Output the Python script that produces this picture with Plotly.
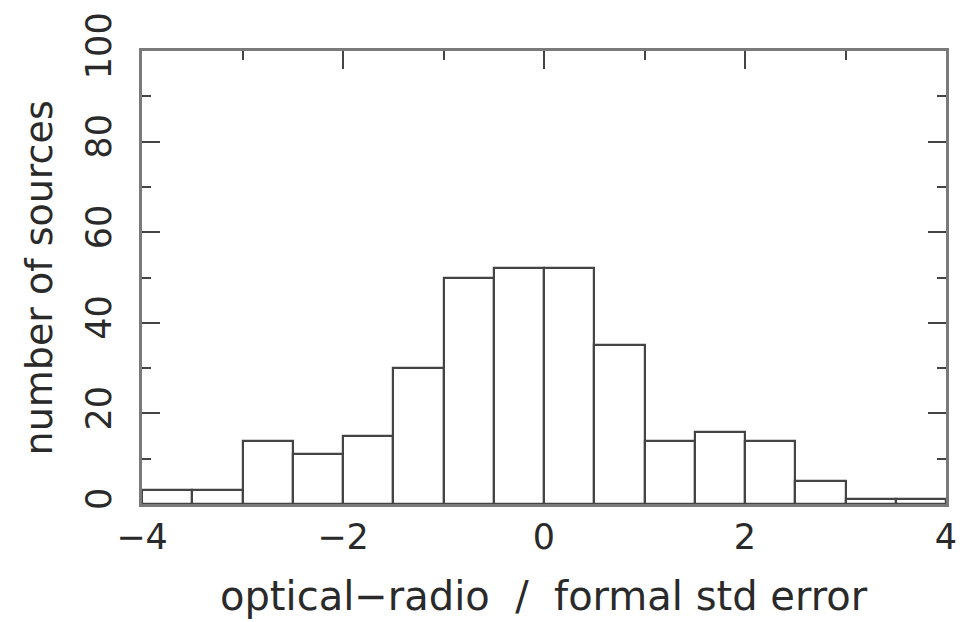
import plotly.graph_objects as go

bin_left = [-4.0, -3.5, -3.0, -2.5, -2.0, -1.5, -1.0, -0.5, 0.0, 0.5, 1.0, 1.5, 2.0, 2.5, 3.0, 3.5]
counts = [3, 3, 14, 11, 15, 30, 50, 52, 52, 35, 14, 16, 14, 5, 1, 1]
bin_width = 0.5
x_tickvals = [-4, -2, 0, 2, 4]
x_ticktext = ["\u22124", "\u22122", "0", "2", "4"]
y_tickvals = [0, 20, 40, 60, 80, 100]
y_ticktext = ["0", "20", "40", "60", "80", "100"]

centers = [b + bin_width / 2 for b in bin_left]

FONT = "DejaVu Sans"
TXT = "#2a2a2a"
fig = go.Figure()
fig.add_trace(go.Bar(
    x=centers, y=counts, width=bin_width,
    marker=dict(color="white", line=dict(color="#444444", width=2.2)),
    showlegend=False, hoverinfo="skip",
))

axis_common = dict(
    showline=True, linecolor="#7a7a7a", linewidth=2.5, mirror="allticks",
    ticks="inside", tickcolor="#444444", tickwidth=2, ticklen=18,
    showgrid=False, zeroline=False,
    tickfont=dict(family=FONT, size=35, color=TXT),
)

fig.update_layout(
    width=969, height=622,
    margin=dict(l=142, r=16, t=48, b=118),
    plot_bgcolor="white", paper_bgcolor="white",
    bargap=0,
    xaxis=dict(range=[-4, 4], tickvals=x_tickvals, ticktext=x_ticktext,
               minor=dict(dtick=1, ticks="inside", ticklen=9, tickcolor="#444444", tickwidth=2),
               **axis_common),
    yaxis=dict(range=[0, 100], tickvals=y_tickvals, ticktext=y_ticktext,
               tickangle=-90, ticklabelstandoff=14,
               minor=dict(dtick=10, ticks="inside", ticklen=9, tickcolor="#444444", tickwidth=2),
               **axis_common),
)

fig.add_annotation(
    text="number of sources", xref="paper", yref="paper",
    x=(38 - 142) / 811, y=0.5, xanchor="center", yanchor="middle",
    textangle=-90, showarrow=False,
    font=dict(family=FONT, size=38, color=TXT),
)
fig.add_annotation(
    text="optical\u2212radio  /  formal std error", xref="paper", yref="paper",
    x=0.5, y=-(621 - 504) / 456, xanchor="center", yanchor="bottom",
    showarrow=False, borderpad=0,
    font=dict(family=FONT, size=40, color=TXT),
)

fig.write_html("out.html")
